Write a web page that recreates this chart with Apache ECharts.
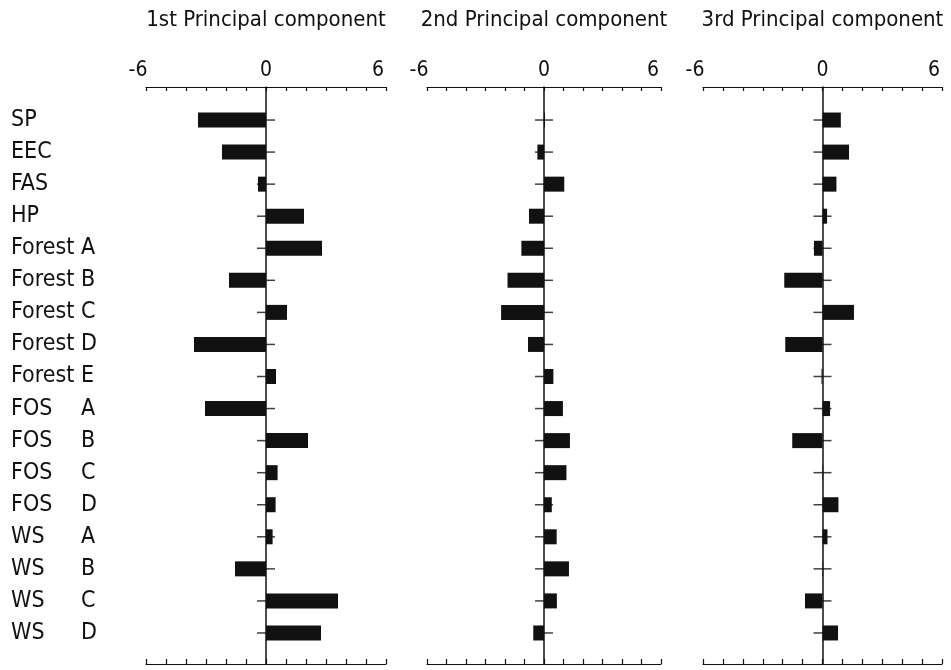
<!DOCTYPE html>
<html>
<head>
<meta charset="utf-8">
<script src="https://cdn.jsdelivr.net/npm/echarts@6/dist/echarts.min.js"></script>
<style>
html,body{margin:0;padding:0;background:#fff;}
#chart{width:951px;height:670px;}
</style>
</head>
<body>
<div id="chart"></div>
<script>
const categories = ['SP','EEC','FAS','HP','Forest A','Forest B','Forest C','Forest D','Forest E','FOS A','FOS B','FOS C','FOS D','WS A','WS B','WS C','WS D'];
const pc1 = [-3.4, -2.2, -0.4, 1.9, 2.8, -1.85, 1.05, -3.6, 0.5, -3.05, 2.1, 0.58, 0.48, 0.33, -1.55, 3.6, 2.75];
const pc2 = [0.05, -0.34, 1.04, -0.77, -1.16, -1.87, -2.2, -0.82, 0.48, 0.97, 1.33, 1.15, 0.4, 0.65, 1.28, 0.66, -0.55];
const pc3 = [0.92, 1.33, 0.7, 0.23, -0.43, -1.92, 1.58, -1.87, -0.05, 0.38, -1.52, 0.03, 0.8, 0.25, 0.03, -0.88, 0.78];
const titles = ['1st Principal component', '2nd Principal component', '3rd Principal component'];
const axisMin = -6, axisMax = 6, axisStep = 1;
const shownTicks = [-6, 0, 6];

const FONT = '"Liberation Sans Narrow", "DejaVu Sans Condensed", "Noto Sans", sans-serif';
const INK = '#111';
const panels = [{left: 146, width: 240}, {left: 427, width: 234}, {left: 703, width: 239}];
const seriesValues = [pc1, pc2, pc3];

const grid = [], xAxis = [], yAxis = [], series = [];
panels.forEach((p, i) => {
  grid.push({left: p.left, width: p.width, top: 87, height: 577});
  grid.push({left: p.left, width: p.width, top: 104, height: 545});
  const fg = 2 * i, bg = 2 * i + 1;
  const xt = xAxis.length;
  xAxis.push({
    gridIndex: fg, type: 'value', position: 'top', min: axisMin, max: axisMax, interval: axisStep,
    name: titles[i], nameLocation: 'middle', nameGap: 56,
    nameTextStyle: {fontFamily: FONT, fontSize: 22, color: INK},
    axisLine: {show: true, onZero: false, lineStyle: {color: INK, width: 1.2}},
    axisTick: {show: true, inside: true, length: 4, lineStyle: {color: INK, width: 1.2}},
    splitLine: {show: false},
    axisLabel: {
      show: true, margin: 6, fontFamily: FONT, fontSize: 21, color: INK,
      formatter: v => shownTicks.indexOf(v) < 0 ? '' : (v === 0 ? '{z|0}' : '{s|' + v + '}'),
      rich: {z: {fontFamily: FONT, fontSize: 21, color: INK}, s: {fontFamily: FONT, fontSize: 21, color: INK, padding: [0, 16, 0, 0]}}
    }
  });
  xAxis.push({
    gridIndex: fg, type: 'value', position: 'bottom', min: axisMin, max: axisMax, interval: axisStep,
    axisLine: {show: true, onZero: false, lineStyle: {color: INK, width: 1.2}},
    axisTick: {show: true, inside: true, length: 5, lineStyle: {color: INK, width: 1.2}},
    splitLine: {show: false}, axisLabel: {show: false}
  });
  yAxis.push({
    gridIndex: fg, type: 'value', min: 0, max: 1,
    axisLine: {show: true, onZero: true, onZeroAxisIndex: xt, lineStyle: {color: INK, width: 1.5}},
    axisTick: {show: false}, axisLabel: {show: false}, splitLine: {show: false}
  });
  const xb = xAxis.length;
  xAxis.push({gridIndex: bg, type: 'value', min: axisMin, max: axisMax, interval: axisStep, show: false});
  const yb = yAxis.length;
  yAxis.push({
    gridIndex: bg, type: 'category', data: categories, inverse: true, position: 'left',
    axisLine: {show: false, onZero: false}, axisTick: {show: false}, splitLine: {show: false},
    axisLabel: {
      show: i === 0, align: 'left', margin: 135, fontFamily: FONT, fontSize: 23, color: INK,
      formatter: name => {
        const parts = name.split(' ');
        return parts.length > 1 ? '{a|' + parts[0] + '}{b|' + parts[1] + '}' : '{a|' + name + '}';
      },
      rich: {
        a: {width: 70, align: 'left', fontFamily: FONT, fontSize: 23, color: INK},
        b: {align: 'left', fontFamily: FONT, fontSize: 23, color: INK}
      }
    }
  });
  series.push({
    type: 'scatter', xAxisIndex: xb, yAxisIndex: yb, silent: true, z: 1,
    symbol: 'rect', symbolSize: [18, 1.5], itemStyle: {color: INK},
    data: categories.map(c => [0, c])
  });
  series.push({
    type: 'bar', xAxisIndex: xb, yAxisIndex: yb, barWidth: 15, z: 2, silent: true,
    itemStyle: {color: INK},
    data: seriesValues[i]
  });
});

const chart = echarts.init(document.getElementById('chart'), null, {renderer: 'canvas'});
chart.setOption({
  backgroundColor: '#fff',
  animation: false,
  grid, xAxis, yAxis, series
});
</script>
</body>
</html>
